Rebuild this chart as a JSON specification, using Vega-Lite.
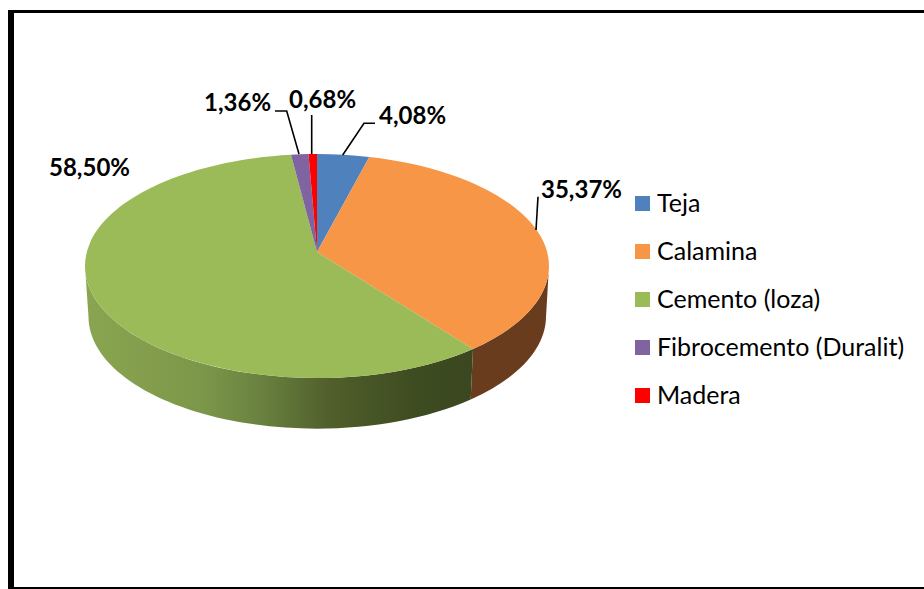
{"$schema":"https://vega.github.io/schema/vega-lite/v6.json","width":924,"height":589,"padding":0,"autosize":"none","background":"white","config":{"view":{"stroke":null},"locale":{"number":{"decimal":",","thousands":".","grouping":[3],"currency":["","€"]}}},"data":{"values":[{"material":"Teja","share":0.0408},{"material":"Calamina","share":0.3537},{"material":"Cemento (loza)","share":0.585},{"material":"Fibrocemento (Duralit)","share":0.0136},{"material":"Madera","share":0.0068}]},"encoding":{"x":{"value":317},"y":{"value":252}},"layer":[{"transform":[{"filter":"datum.material==='Cemento (loza)'"}],"mark":{"type":"point","filled":true,"size":4,"opacity":1,"strokeWidth":0,"fill":{"gradient":"linear","x1":0,"y1":0,"x2":1,"y2":0,"stops":[{"offset":0,"color":"#8aa550"},{"offset":0.3,"color":"#7d974a"},{"offset":0.45,"color":"#6a8240"},{"offset":0.63,"color":"#505f2b"},{"offset":0.85,"color":"#3e4c21"},{"offset":1,"color":"#3a4720"}]}},"encoding":{"shape":{"value":"M-232,14 A232,112 0 0 0 156,96.9 L153.7,147.5 A228.5,112 0 0 1 -228.5,65 Z"}}},{"transform":[{"filter":"datum.material==='Calamina'"}],"mark":{"type":"point","filled":true,"size":4,"opacity":1,"strokeWidth":0,"fill":"#683c1d"},"encoding":{"shape":{"value":"M156,96.9 A232,112 0 0 0 232,14 L229,65 A228.5,112 0 0 1 153.7,147.5 Z"}}},{"mark":{"type":"point","filled":true,"size":4,"opacity":1,"strokeWidth":0},"encoding":{"color":{"field":"material","type":"nominal","sort":null,"scale":{"domain":["Teja","Calamina","Cemento (loza)","Fibrocemento (Duralit)","Madera"],"range":["#4f81bd","#f79646","#9bbb59","#8064a2","#ff0000"]},"legend":{"title":null,"orient":"none","legendX":630,"legendY":191,"symbolType":"square","symbolSize":225,"symbolOpacity":1,"symbolStrokeWidth":0,"labelFont":"Lato","labelFontSize":25,"labelColor":"#000000","labelOffset":2,"rowPadding":22,"labelLimit":300}},"shape":{"field":"material","type":"nominal","sort":null,"legend":null,"scale":{"domain":["Teja","Calamina","Cemento (loza)","Fibrocemento (Duralit)","Madera"],"range":["M0,0 L0,-98 A232,112 0 0 1 52.3,-95.1 Z","M0,0 L52.3,-95.1 A232,112 0 0 1 156,96.9 Z","M0,0 L156,96.9 A232,112 0 1 1 -26,-97.3 Z","M0,0 L-26,-97.3 A232,112 0 0 1 -8.5,-97.9 Z","M0,0 L-8.5,-97.9 A232,112 0 0 1 0,-98 Z"]}}}},{"transform":[{"filter":"datum.material!=='Cemento (loza)'"}],"mark":{"type":"point","filled":false,"size":4,"opacity":1,"strokeWidth":1.6,"stroke":"#000000","fill":null},"encoding":{"shape":{"field":"material","type":"nominal","sort":null,"legend":null,"scale":{"domain":["Teja","Calamina","Fibrocemento (Duralit)","Madera"],"range":["M25.7,-97 L47,-128.7 L58,-128.7","M219,-22 L221,-55.3","M-18,-98 L-30.3,-141 L-42,-141","M-5.3,-98 L-5.3,-137"]}}}},{"transform":[{"filter":"datum.material==='Teja'"}],"mark":{"type":"text","align":"left","baseline":"alphabetic","font":"Lato","fontWeight":"bold","fontSize":24,"color":"#000000","dx":62,"dy":-128},"encoding":{"text":{"field":"share","type":"quantitative","format":".2%"}}},{"transform":[{"filter":"datum.material==='Calamina'"}],"mark":{"type":"text","align":"left","baseline":"alphabetic","font":"Lato","fontWeight":"bold","fontSize":24,"color":"#000000","dx":224,"dy":-54},"encoding":{"text":{"field":"share","type":"quantitative","format":".2%"}}},{"transform":[{"filter":"datum.material==='Cemento (loza)'"}],"mark":{"type":"text","align":"left","baseline":"alphabetic","font":"Lato","fontWeight":"bold","fontSize":24,"color":"#000000","dx":-268,"dy":-76},"encoding":{"text":{"field":"share","type":"quantitative","format":".2%"}}},{"transform":[{"filter":"datum.material==='Fibrocemento (Duralit)'"}],"mark":{"type":"text","align":"left","baseline":"alphabetic","font":"Lato","fontWeight":"bold","fontSize":24,"color":"#000000","dx":-113,"dy":-141},"encoding":{"text":{"field":"share","type":"quantitative","format":".2%"}}},{"transform":[{"filter":"datum.material==='Madera'"}],"mark":{"type":"text","align":"left","baseline":"alphabetic","font":"Lato","fontWeight":"bold","fontSize":24,"color":"#000000","dx":-28,"dy":-144},"encoding":{"text":{"field":"share","type":"quantitative","format":".2%"}}},{"data":{"values":[{"part":"marco"}]},"mark":{"type":"point","filled":true,"size":4,"opacity":1,"strokeWidth":0,"fill":"#000000"},"encoding":{"x":{"value":0},"y":{"value":0},"shape":{"value":"M8,10 H924 V13 H14 V587 H924 V589 H8 Z"}}}],"resolve":{"scale":{"shape":"independent"}}}
